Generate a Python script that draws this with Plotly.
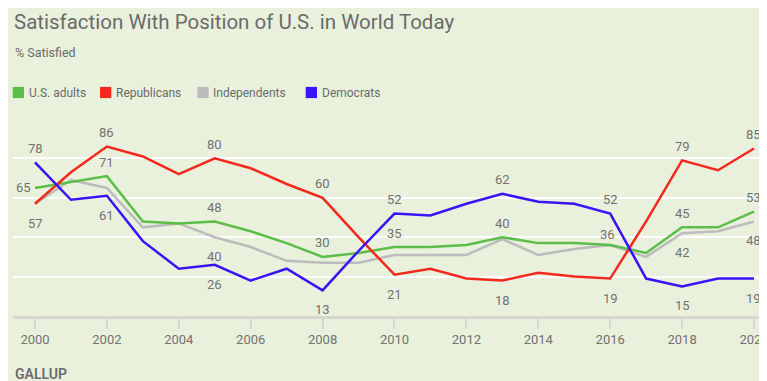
import plotly.graph_objects as go

# ---------------- data ----------------
years = list(range(2000, 2021))
us_adults = [65, 68, 71, 48, 47, 48, 43, 37, 30, 32, 35, 35, 36, 40, 37, 37, 36, 32, 45, 45, 53]
republicans = [57, 73, 86, 81, 72, 80, 75, 67, 60, 40, 21, 24, 19, 18, 22, 20, 19, 48, 79, 74, 85]
independents = [57, 69, 65, 45, 47, 40, 35, 28, 27, 27, 31, 31, 31, 39, 31, 34, 36, 30, 42, 43, 48]
democrats = [78, 59, 61, 38, 24, 26, 18, 24, 13, 33, 52, 51, 57, 62, 58, 57, 52, 19, 15, 19, 19]
tick_years = list(range(2000, 2021, 2))

series_names = ["U.S. adults", "Republicans", "Independents", "Democrats"]
series_values = [us_adults, republicans, independents, democrats]
series_colors = ["#5cbd48", "#f4281c", "#bcbcbc", "#3a14f7"]

# which points carry a value label, and on which side
label_years = {
    "U.S. adults": {2000: "left", 2002: "above", 2005: "above", 2008: "above", 2010: "above",
                    2013: "above", 2016: "near", 2018: "above", 2020: "above"},
    "Republicans": {2000: "below", 2002: "above", 2005: "above", 2008: "above", 2010: "below",
                    2013: "below", 2016: "below", 2018: "above", 2020: "above"},
    "Independents": {2005: "below", 2018: "below", 2020: "below"},
    "Democrats": {2000: "above", 2002: "below", 2005: "below", 2008: "below", 2010: "above",
                  2013: "above", 2016: "above", 2018: "below", 2020: "below"},
}

# ---------------- geometry ----------------
W, H = 790, 400
ML, MR, MT, MB = 5, 31, 111, 92
PW = W - ML - MR
PH = H - MT - MB


def px(fx):
    return (fx - ML) / PW


def py(fy):
    return (H - MB - fy) / PH


BG = "#e9f1dc"
TXT = "#6b6b6b"
LBL = "#727272"
FONT = "Roboto"

fig = go.Figure()

draw_order = [2, 0, 1, 3]
for i in draw_order:
    fig.add_trace(go.Scatter(
        x=years, y=series_values[i], mode="lines", name=series_names[i],
        line=dict(color=series_colors[i], width=2.5), showlegend=False,
        hoverinfo="skip"))

annotations = []
shifts = {"above": (0, 14), "below": (0, -19.5), "left": (-12, 0), "near": (-3, 11)}
for name, vals in zip(series_names, series_values):
    for yr, pos in label_years[name].items():
        v = vals[years.index(yr)]
        dx, dy = shifts[pos]
        annotations.append(dict(
            x=yr, y=v, xref="x", yref="y", text=str(v), showarrow=False,
            xshift=dx, yshift=dy, font=dict(family=FONT, size=13, color=LBL)))

# title, subtitle, source
annotations.append(dict(x=px(4), y=py(13.7), xref="paper", yref="paper",
                        text="Satisfaction With Position of U.S. in World Today",
                        showarrow=False, xanchor="left", yanchor="middle",
                        font=dict(family=FONT, size=20.5, color=TXT)))
annotations.append(dict(x=px(4.5), y=py(44), xref="paper", yref="paper",
                        text="% Satisfied", showarrow=False, xanchor="left", yanchor="middle",
                        font=dict(family=FONT, size=12.5, color=TXT)))
annotations.append(dict(x=px(4.5), y=py(366), xref="paper", yref="paper",
                        text="GALLUP", showarrow=False, xanchor="left", yanchor="middle",
                        font=dict(family=FONT, size=14, color=TXT, weight=600)))

# legend (manual, square swatches)
shapes = []
leg_sq_x = [4.7, 92, 189.3, 297.7]
leg_cy = 84.5
for name, col, sx in zip(series_names, series_colors, leg_sq_x):
    shapes.append(dict(type="rect", xref="paper", yref="paper",
                       x0=px(sx), x1=px(sx + 11.3), y0=py(leg_cy - 5.6), y1=py(leg_cy + 5.6),
                       fillcolor=col, line=dict(width=0)))
    annotations.append(dict(x=px(sx + 14), y=py(leg_cy), xref="paper", yref="paper",
                            text=name, showarrow=False, xanchor="left", yanchor="middle",
                            font=dict(family=FONT, size=12, color=TXT)))

fig.update_layout(
    width=W, height=H, autosize=False,
    margin=dict(l=ML, r=MR, t=MT, b=MB, pad=0),
    paper_bgcolor=BG, plot_bgcolor=BG,
    showlegend=False,
    annotations=annotations, shapes=shapes,
    font=dict(family=FONT, color=LBL),
)
fig.update_xaxes(
    range=[1999.388, 2020.362], tickvals=tick_years, ticktext=[str(t) for t in tick_years],
    showgrid=False, zeroline=False, showline=True, linecolor="#d6d8d0", linewidth=2.5,
    ticks="outside", ticklen=10, tickwidth=2, tickcolor="#d6d8d0",
    tickfont=dict(family=FONT, size=13, color=LBL), fixedrange=True)
fig.update_yaxes(
    range=[0, 100], tickvals=[20, 40, 60, 80, 100], showticklabels=False,
    showgrid=True, gridcolor="#ffffff", gridwidth=2, zeroline=False, showline=False,
    fixedrange=True)

fig.write_html(
    "out.html",
    post_script="document.documentElement.style.overflow='hidden';"
                "document.body.style.overflow='hidden';",
)
